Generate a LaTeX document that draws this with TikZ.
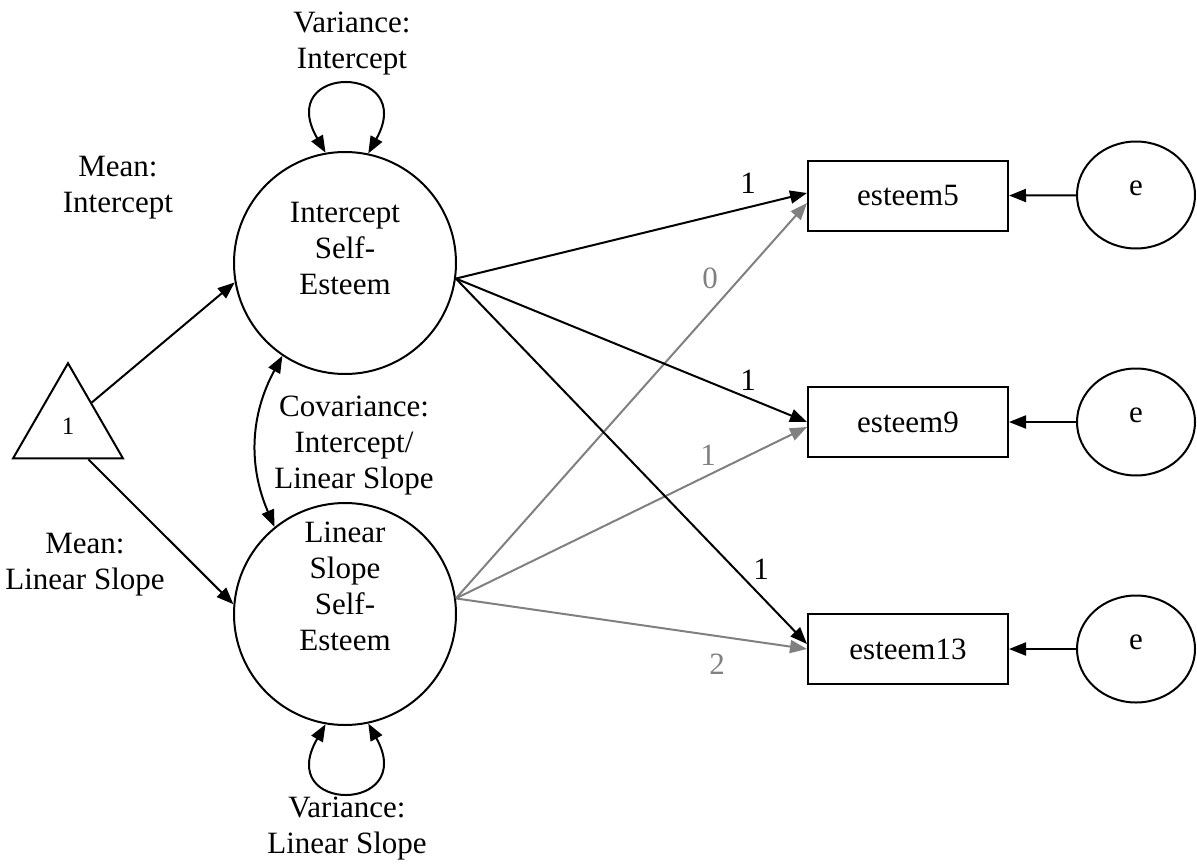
\documentclass[tikz,border=0pt]{standalone}
\usepackage{fontspec}
\setmainfont{Liberation Serif}
\usetikzlibrary{arrows.meta,shapes.geometric,calc}
\definecolor{pathgray}{RGB}{128,128,128}
\begin{document}
\begin{tikzpicture}[x=1pt,y=-1pt,
  txt/.style={font=\fontsize{31}{36}\selectfont, align=center, inner sep=0pt},
  num/.style={font=\fontsize{31}{36}\selectfont, inner sep=0pt},
  lat/.style={draw, circle, line width=2pt, minimum size=222pt, inner sep=0pt},
  obs/.style={draw, rectangle, line width=2pt, minimum width=200pt, minimum height=70pt, inner sep=0pt, font=\fontsize{31}{36}\selectfont},
  err/.style={draw, ellipse, line width=2pt, minimum width=118pt, minimum height=107pt, inner sep=0pt,
              font=\fontsize{31}{36}\selectfont, text height=7pt, text depth=7pt},
  tri/.style={draw, regular polygon, regular polygon sides=3, minimum size=127pt, inner sep=0pt,
              line width=2pt, font=\fontsize{25}{28}\selectfont},
  tip/.tip={Triangle[length=17pt,width=13pt]},
  blk/.style={line width=2pt, -tip},
  gry/.style={blk, draw=pathgray},
  dbl/.style={line width=2pt, tip-tip},
]
\useasboundingbox (0,0) rectangle (1197,867);

% latent variables
\node[lat] (int) at (345,263) {};
\node[txt] (inttxt) at (345,249) {Intercept\\Self-\\Esteem};
\node[lat] (slp) at (345,614) {};
\node[txt] (slptxt) at (345,586) {Linear\\Slope\\Self-\\Esteem};

% constant
\node[tri] (one) at (68,426.7) {1};

% observed
\node[obs] (y5) at (908,196) {esteem5};
\node[obs] (y9) at (908,422) {esteem9};
\node[obs] (y13) at (908,649) {esteem13};

% errors
\node[err] (e5) at (1136,195) {e};
\node[err] (e9) at (1136,422) {e};
\node[err] (e13) at (1136,649) {e};

% labels
\node[txt] (varI) at (352,44) {Variance:\\Intercept};
\node[txt] (varS) at (347,829) {Variance:\\Linear Slope};
\node[txt] (meanI) at (118,188) {Mean:\\Intercept};
\node[txt] (meanS) at (85,565) {Mean:\\Linear Slope};
\node[txt] (cov) at (354,446) {Covariance:\\Intercept/\\Linear Slope};

% means
\draw[blk] ($(one.corner 1)!0.42!(one.corner 3)$) -- (int.190);
\draw[blk] ($(one.corner 3)!0.32!(one.corner 2)$) -- (slp.175);

% covariance and variances
\draw[dbl] (int.236) to[bend right=26] (slp.129);
\draw[dbl] (int.100) .. controls +(-52,-90) and +(50,-90) .. (int.78);
\draw[dbl] (slp.-100) .. controls +(-52,90) and +(50,90) .. (slp.-78);

% loadings
\draw[gry] (slp.8) -- ($(y5.west)+(0,7)$);
\draw[gry] (slp.8) -- ($(y9.west)+(0,5)$);
\draw[gry] (slp.8) -- ($(y13.west)+(0,0)$);
\draw[blk] (int.-8) -- ($(y5.west)+(0,-3)$);
\draw[blk] (int.-8) -- ($(y9.west)+(0,0)$);
\draw[blk] (int.-8) -- ($(y13.west)+(0,-5)$);

\node[num] (l5) at (748,183) {1};
\node[num] (l9) at (748,380) {1};
\node[num] (l13) at (761,569) {1};
\node[num, text=pathgray] (g5) at (710,278) {0};
\node[num, text=pathgray] (g9) at (708,455) {1};
\node[num, text=pathgray] (g13) at (717,664) {2};

% residuals
\draw[blk] (e5) -- (y5);
\draw[blk] (e9) -- (y9);
\draw[blk] (e13) -- (y13);
\end{tikzpicture}
\end{document}
